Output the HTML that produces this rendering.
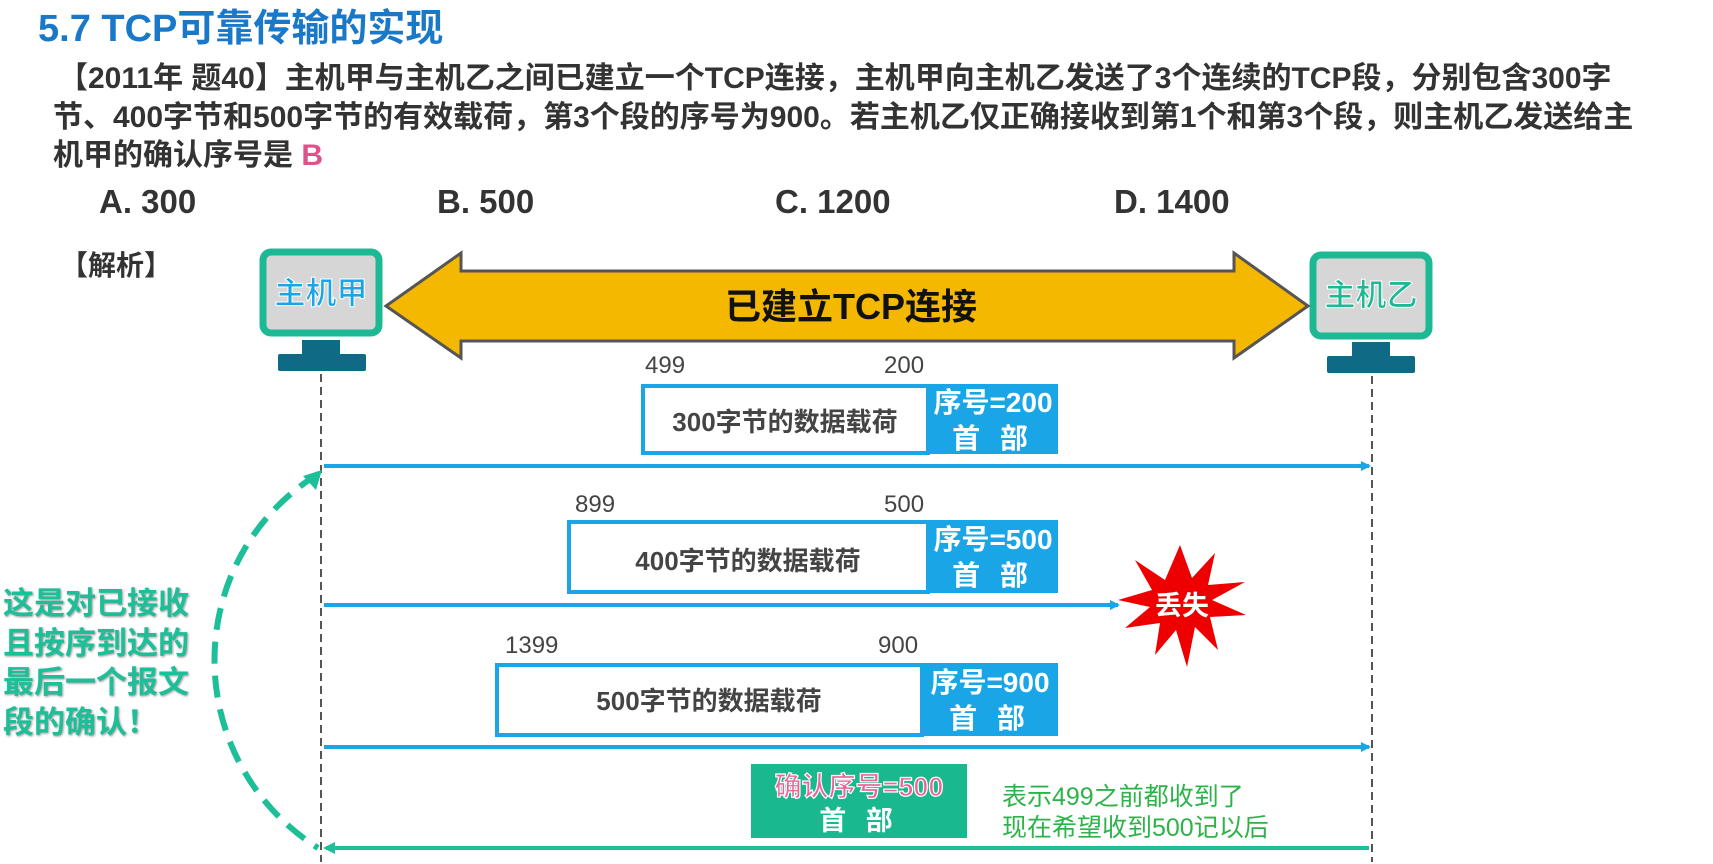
<!DOCTYPE html>
<html><head><meta charset="utf-8"><style>
body{margin:0;width:1713px;height:864px;background:#fff;overflow:hidden;position:relative;font-family:"Liberation Sans","Noto Sans CJK SC",sans-serif;}
.t{position:absolute;white-space:nowrap;}
</style></head><body>
<svg width="1713" height="864" style="position:absolute;left:0;top:0" font-family="Liberation Sans, Noto Sans CJK SC, sans-serif">
<defs>
<marker id="ab" markerWidth="10" markerHeight="10" refX="8" refY="5" orient="auto" markerUnits="userSpaceOnUse"><path d="M0,0 L10,5 L0,10 z" fill="#1aa6e6"/></marker>
<marker id="ag" markerWidth="12" markerHeight="12" refX="9" refY="6" orient="auto" markerUnits="userSpaceOnUse"><path d="M0,0 L12,6 L0,12 z" fill="#1dbf98"/></marker>
</defs>
<rect x="263" y="252" width="116" height="81" rx="8" fill="#d6d6d6" stroke="#1db894" stroke-width="7"/>
<rect x="302" y="340" width="38" height="14" fill="#0f6a86"/>
<rect x="278" y="354" width="88" height="17" rx="2" fill="#0f6a86"/>
<text x="321" y="304" text-anchor="middle" font-size="31" font-weight="bold" fill="#1aa6e6" stroke="#fff" stroke-width="1">主机甲</text>
<rect x="1313" y="255" width="116" height="81" rx="8" fill="#d6d6d6" stroke="#1db894" stroke-width="7"/>
<rect x="1352" y="342" width="38" height="14" fill="#0f6a86"/>
<rect x="1327" y="356" width="88" height="17" rx="2" fill="#0f6a86"/>
<text x="1371" y="306" text-anchor="middle" font-size="31" font-weight="bold" fill="#1db894" stroke="#fff" stroke-width="1">主机乙</text>
<path d="M386,306 L461,253 L461,271 L1234,271 L1234,253 L1308,306 L1234,358 L1234,341 L461,341 L461,358 Z" fill="#f5b800" stroke="#555" stroke-width="3"/>
<text x="851" y="319" text-anchor="middle" font-size="36" font-weight="bold" fill="#111">已建立TCP连接</text>
<line x1="321" y1="374" x2="321" y2="862" stroke="#555" stroke-width="2" stroke-dasharray="8,5"/>
<line x1="1372" y1="376" x2="1372" y2="862" stroke="#555" stroke-width="2" stroke-dasharray="8,5"/>
<rect x="643" y="386" width="285" height="67" fill="#fff" stroke="#1aa6e6" stroke-width="4"/>
<rect x="928" y="384" width="130" height="70" fill="#1aa6e6"/>
<rect x="569" y="522" width="359" height="70" fill="#fff" stroke="#1aa6e6" stroke-width="4"/>
<rect x="928" y="520" width="130" height="73" fill="#1aa6e6"/>
<rect x="497" y="665" width="425" height="70" fill="#fff" stroke="#1aa6e6" stroke-width="4"/>
<rect x="922" y="663" width="136" height="73" fill="#1aa6e6"/>
<line x1="324" y1="466" x2="1369" y2="466" stroke="#1aa6e6" stroke-width="4" marker-end="url(#ab)"/>
<line x1="324" y1="605" x2="1118" y2="605" stroke="#1aa6e6" stroke-width="4" marker-end="url(#ab)"/>
<line x1="324" y1="747" x2="1369" y2="747" stroke="#1aa6e6" stroke-width="4" marker-end="url(#ab)"/>
<line x1="1369" y1="848" x2="326" y2="848" stroke="#1dbf98" stroke-width="4" marker-end="url(#ag)"/>
<path d="M1180,545 L1192,578 L1215,553 L1208,585 L1245,582 L1212,600 L1246,615 L1210,617 L1218,650 L1195,627 L1187,667 L1176,630 L1155,655 L1160,623 L1125,628 L1150,607 L1118,600 L1152,590 L1135,560 L1165,580 Z" fill="#ee0000"/>
<text x="1182" y="615" text-anchor="middle" font-size="27" font-weight="bold" fill="#fff">丢失</text>
<rect x="751" y="764" width="216" height="74" fill="#19b88f"/>
<text x="859" y="796" text-anchor="middle" font-size="27" font-weight="bold" fill="#e8649a" stroke="#fff" stroke-width="1.2">确认序号=500</text>
<text x="859" y="830" text-anchor="middle" font-size="27" font-weight="bold" fill="#fff" letter-spacing="6">首 部</text>
<path d="M318,474 C180,560 180,760 318,848" fill="none" stroke="#1dbf98" stroke-width="6" stroke-dasharray="22,12"/>
<path d="M322,470 L303,476 L316,490 Z" fill="#1dbf98"/>
<g font-size="28" font-weight="bold" fill="#fff" text-anchor="middle">
<text x="993" y="412">序号=200</text><text x="993" y="448" letter-spacing="6">首 部</text>
<text x="993" y="549">序号=500</text><text x="993" y="585" letter-spacing="6">首 部</text>
<text x="990" y="692">序号=900</text><text x="990" y="728" letter-spacing="6">首 部</text>
</g>
<g font-size="26" font-weight="bold" fill="#444" text-anchor="middle">
<text x="785" y="431">300字节的数据载荷</text>
<text x="748" y="570">400字节的数据载荷</text>
<text x="709" y="710">500字节的数据载荷</text>
</g>
<g font-size="24" fill="#444">
<text x="645" y="373">499</text><text x="884" y="373">200</text>
<text x="575" y="512">899</text><text x="884" y="512">500</text>
<text x="505" y="653">1399</text><text x="878" y="653">900</text>
</g>
</svg>
<div class="t" style="left:38px;top:-3px;font-size:38px;font-weight:bold;color:#1a78c8">5.7 TCP可靠传输的实现</div>
<div class="t" style="left:58px;top:60px;font-size:30px;font-weight:bold;color:#333;line-height:38.5px">【2011年 题40】主机甲与主机乙之间已建立一个TCP连接，主机甲向主机乙发送了3个连续的TCP段，分别包含300字<br><span style="margin-left:-5px">节、400字节和500字节的有效载荷，第3个段的序号为900。若主机乙仅正确接收到第1个和第3个段，则主机乙发送给主</span><br><span style="margin-left:-5px">机甲的确认序号是 <span style="color:#e0508a">B</span></span></div>
<div class="t" style="left:99px;top:183px;font-size:33px;font-weight:bold;color:#333">A. 300</div>
<div class="t" style="left:437px;top:183px;font-size:33px;font-weight:bold;color:#333">B. 500</div>
<div class="t" style="left:775px;top:183px;font-size:33px;font-weight:bold;color:#333">C. 1200</div>
<div class="t" style="left:1114px;top:183px;font-size:33px;font-weight:bold;color:#333">D. 1400</div>
<div class="t" style="left:60px;top:244px;font-size:28px;font-weight:bold;color:#333">【解析】</div>
<div class="t" style="left:3px;top:584px;font-size:31px;font-weight:bold;color:#1dbf98;line-height:39.5px;text-shadow:1px 1px 2px #999">这是对已接收<br>且按序到达的<br>最后一个报文<br>段的确认！</div>
<div class="t" style="left:1002px;top:782px;font-size:25px;color:#2db34a;line-height:31px">表示499之前都收到了<br>现在希望收到500记以后</div>
</body></html>
